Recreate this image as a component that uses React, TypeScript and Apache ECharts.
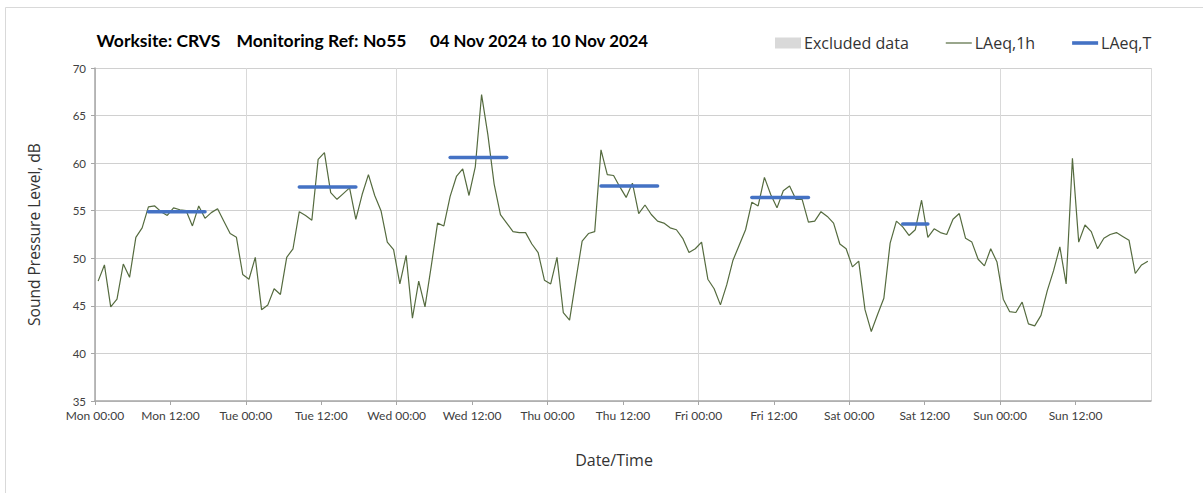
import React, { useEffect, useRef } from "react";
import * as echarts from "echarts";

const dayNames = ["Mon", "Tue", "Wed", "Thu", "Fri", "Sat", "Sun", "Mon"];

// Hourly LAeq,1h values, Mon 00:00 .. Sun 23:00 (168 hours)
const laeq1h = [
  47.6, 49.3, 44.9, 45.7, 49.4, 48.0, 52.2, 53.2, 55.4, 55.5,
  54.9, 54.5, 55.3, 55.1, 55.0, 53.4, 55.5, 54.2, 54.8, 55.2,
  53.9, 52.6, 52.2, 48.3, 47.8, 50.1, 44.6, 45.1, 46.8, 46.2,
  50.1, 51.0, 54.9, 54.5, 54.0, 60.4, 61.1, 56.9, 56.2, 56.8,
  57.4, 54.1, 56.7, 58.8, 56.6, 55.0, 51.7, 50.9, 47.3, 50.3,
  43.7, 47.6, 44.9, 49.2, 53.7, 53.4, 56.5, 58.6, 59.4, 56.6,
  59.6, 67.2, 63.0, 57.8, 54.6, 53.7, 52.8, 52.7, 52.7, 51.5,
  50.6, 47.7, 47.3, 50.1, 44.3, 43.5, 47.7, 51.8, 52.6, 52.8,
  61.4, 58.8, 58.7, 57.5, 56.4, 57.9, 54.7, 55.6, 54.6, 53.9,
  53.7, 53.2, 53.0, 52.1, 50.6, 51.0, 51.7, 47.8, 46.8, 45.1,
  47.2, 49.8, 51.4, 53.0, 55.9, 55.5, 58.5, 56.7, 55.3, 57.1,
  57.6, 56.2, 56.2, 53.8, 53.9, 54.9, 54.4, 53.7, 51.5, 51.0,
  49.1, 49.7, 44.6, 42.3, 44.1, 45.8, 51.6, 53.9, 53.3, 52.4,
  53.0, 56.1, 52.2, 53.1, 52.7, 52.5, 54.1, 54.7, 52.1, 51.7,
  49.9, 49.2, 51.0, 49.6, 45.7, 44.4, 44.3, 45.4, 43.1, 42.9,
  44.0, 46.6, 48.7, 51.2, 47.3, 60.5, 51.7, 53.5, 52.8, 51.0,
  52.1, 52.5, 52.7, 52.3, 51.9, 48.4, 49.3, 49.7,
];

// LAeq,T periods (start hour, end hour, level)
const laeqTStart = [8, 32, 56, 80, 104, 128];
const laeqTEnd = [17, 41, 65, 89, 113, 132];
const laeqTValues = [54.9, 57.5, 60.6, 57.6, 56.4, 53.6];

const titleParts = ["Worksite: CRVS", "Monitoring Ref: No55", "04 Nov 2024 to 10 Nov 2024"];

const FONT_TITLE = "Lato, 'Noto Sans', sans-serif";
const FONT_UI = "'Open Sans', 'Noto Sans', sans-serif";

const thinLineIcon = "path://M0,0 M0,4.9 L26,4.9 L26,6.1 L0,6.1 Z M26,11";
const thickLineIcon = "path://M0,0 M0,3.7 L26,3.7 L26,7.3 L0,7.3 Z M26,11";

function fmtHour(v: number): string {
  const d = Math.floor(v / 24);
  const h = v % 24;
  return `${dayNames[d]} ${String(h).padStart(2, "0")}:00`;
}

export default function App() {
  const ref = useRef<HTMLDivElement>(null);
  useEffect(() => {
    if (!ref.current) return;
    const chart = echarts.init(ref.current, undefined, { renderer: "svg" });
    const lineData = laeq1h.map((v, i) => [i + 0.5, v]);
    const tSeries = laeqTValues.map((v, k) => ({
      name: "LAeq,T",
      type: "line",
      xAxisIndex: 0,
      symbol: "none",
      data: [
        [laeqTStart[k] + 0.5, v],
        [laeqTEnd[k] + 0.5, v],
      ],
      lineStyle: { color: "#4472c4", width: 3.5, cap: "round" },
      itemStyle: { color: "#4472c4" },
      z: 5,
    }));
    const titleX = [96.5, 236.5, 430];
    const titleSize = [17.5, 17.5, 16.8];
    chart.setOption({
      animation: false,
      textStyle: { fontFamily: FONT_UI },
      grid: { left: 95, right: 52, top: 68, bottom: 92, containLabel: false },
      legend: {
        left: 775,
        top: 35,
        padding: 0,
        itemWidth: 26,
        itemHeight: 11,
        itemGap: 37,
        textStyle: { fontSize: 16, color: "#333", fontFamily: FONT_UI, padding: [0, 0, 0, -2] },
        data: [
          { name: "Excluded data", icon: "rect" },
          { name: "LAeq,1h", icon: thinLineIcon },
          { name: "LAeq,T", icon: thickLineIcon },
        ],
      },
      xAxis: [
        {
          type: "value",
          min: 0,
          max: 168,
          interval: 12,
          axisLine: { show: true, lineStyle: { color: "#a6a6a6", width: 1.5 } },
          axisTick: { show: true, length: 4, lineStyle: { color: "#a6a6a6" } },
          axisLabel: {
            formatter: (v: number) => fmtHour(v),
            showMaxLabel: false,
            color: "#404040",
            fontSize: 12,
            margin: 8,
            fontFamily: FONT_TITLE,
          },
          splitLine: { show: false },
        },
        {
          type: "value",
          min: 0,
          max: 168,
          interval: 24,
          position: "bottom",
          axisLine: { show: false },
          axisTick: { show: false },
          axisLabel: { show: false },
          splitLine: { show: true, lineStyle: { color: "#d9d9d9", width: 1 } },
        },
      ],
      yAxis: {
        type: "value",
        min: 35,
        max: 70,
        interval: 5,
        name: "Sound Pressure Level, dB",
        nameLocation: "middle",
        nameGap: 53,
        nameTextStyle: { fontSize: 15.5, color: "#333", fontFamily: FONT_UI },
        axisLine: { show: true, lineStyle: { color: "#a6a6a6", width: 1.5 } },
        axisTick: { show: true, length: 4, lineStyle: { color: "#a6a6a6" } },
        axisLabel: { color: "#404040", fontSize: 11.5, margin: 9, fontFamily: FONT_TITLE },
        splitLine: { show: true, lineStyle: { color: "#d0d0d0", width: 1.2 } },
      },
      graphic: [
        {
          type: "rect",
          shape: { x: 5.5, y: 7.5, width: 1300, height: 600 },
          style: { fill: "none", stroke: "#d9d9d9", lineWidth: 1 },
          silent: true,
        },
        ...titleParts.map((t, k) => ({
          type: "text",
          x: titleX[k],
          y: 40,
          style: {
            text: t,
            fontSize: titleSize[k],
            fontWeight: "bold",
            fill: "#000",
            fontFamily: FONT_TITLE,
            verticalAlign: "middle",
          },
        })),
        {
          type: "text",
          x: 614,
          y: 460,
          style: {
            text: "Date/Time",
            fontSize: 16,
            fill: "#333",
            fontFamily: FONT_UI,
            align: "center",
            verticalAlign: "middle",
          },
        },
      ],
      series: [
        {
          name: "Excluded data",
          type: "bar",
          data: [],
          itemStyle: { color: "#d9d9d9" },
        },
        {
          name: "LAeq,1h",
          type: "line",
          xAxisIndex: 0,
          symbol: "none",
          data: lineData,
          lineStyle: { color: "#556b3f", width: 1.2 },
          itemStyle: { color: "#556b3f" },
          z: 3,
        },
        ...tSeries,
      ],
    });
    return () => chart.dispose();
  }, []);
  return (
    <div
      ref={ref}
      style={{ position: "fixed", left: 0, top: 0, width: 1203, height: 493, background: "#fff" }}
    />
  );
}
